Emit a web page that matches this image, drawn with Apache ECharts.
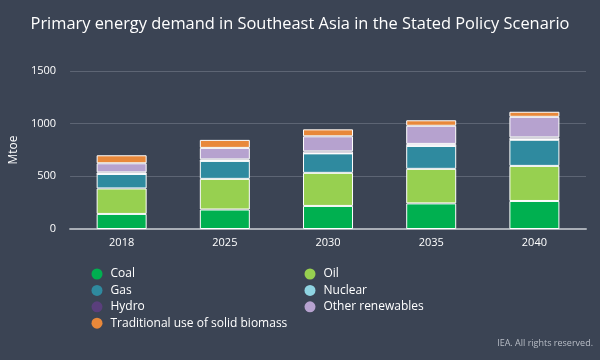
<!DOCTYPE html>
<html><head><meta charset="utf-8">
<script src="https://cdn.jsdelivr.net/npm/echarts@6/dist/echarts.min.js"></script>
<style>html,body{margin:0;padding:0;background:#3b4454;}#c{width:600px;height:360px;}</style>
</head><body><div id="c"></div>
<script>
const categories = ['2018','2025','2030','2035','2040'];
const coal = [143, 185, 219, 243, 266];
const oil = [242, 291, 314, 328, 333];
const gas = [138, 171, 185, 218, 248];
const nuclear = [0, 0, 0, 0, 4];
const hydro = [15, 14, 19, 19, 19];
const otherRenewables = [86, 109, 143, 172, 195];
const biomass = [76, 76, 66, 52, 48];
const yTicks = [0, 500, 1000, 1500];

const seriesDefs = [
  ['Coal', coal, '#00b050'],
  ['Oil', oil, '#97d050'],
  ['Gas', gas, '#2f8a9f'],
  ['Nuclear', nuclear, '#8fd4e2'],
  ['Hydro', hydro, '#5a3f7c'],
  ['Other renewables', otherRenewables, '#b6a2cf'],
  ['Traditional use of solid biomass', biomass, '#e8883a']
];
const chart = echarts.init(document.getElementById('c'));
const font = '"Open Sans", "Noto Sans", sans-serif';
const legendBase = {
  orient: 'vertical', top: 263, icon: 'circle', itemWidth: 11, itemHeight: 11, itemGap: 4.4,
  itemStyle: {borderWidth: 0},
  textStyle: {color: '#ffffff', fontSize: 12, fontFamily: font, padding: [0, 0, 0, 3]}
};
chart.setOption({
  backgroundColor: '#3b4454',
  animation: false,
  textStyle: {fontFamily: font},
  title: {
    text: 'Primary energy demand in Southeast Asia in the Stated Policy Scenario',
    left: 'center', top: 11,
    textStyle: {color: '#ffffff', fontSize: 16.4, fontWeight: 'normal', fontFamily: font}
  },
  legend: [
    Object.assign({data: ['Coal','Gas','Hydro','Traditional use of solid biomass'], left: 86.5}, legendBase),
    Object.assign({data: ['Oil','Nuclear','Other renewables'], left: 299.5}, legendBase)
  ],
  graphic: [{type: 'text', right: 7, top: 339, style: {text: 'IEA. All rights reserved.', fill: '#b8bdc6', fontSize: 9, fontFamily: font}}],
  grid: {left: 66, right: 14, top: 71, bottom: 131},
  xAxis: {
    type: 'category', data: categories,
    axisLine: {lineStyle: {color: '#a9aeb6', width: 2}},
    axisTick: {show: false},
    axisLabel: {color: '#ffffff', fontSize: 11, margin: 8}
  },
  yAxis: {
    type: 'value', min: yTicks[0], max: yTicks[yTicks.length-1], interval: 500,
    name: 'Mtoe', nameLocation: 'middle', nameGap: 48, nameRotate: 90,
    nameTextStyle: {color: '#ffffff', fontSize: 12},
    axisLabel: {color: '#ffffff', fontSize: 11, margin: 14, formatter: v => String(v)},
    splitLine: {lineStyle: {color: '#5d6574', width: 1}},
    axisLine: {show: false}, axisTick: {show: false}
  },
  series: seriesDefs.map(([name, data, color]) => ({
    name, type: 'bar', stack: 'total', data, barWidth: 50,
    itemStyle: {color, borderColor: '#ffffff', borderWidth: 1}
  }))
});
</script></body></html>
